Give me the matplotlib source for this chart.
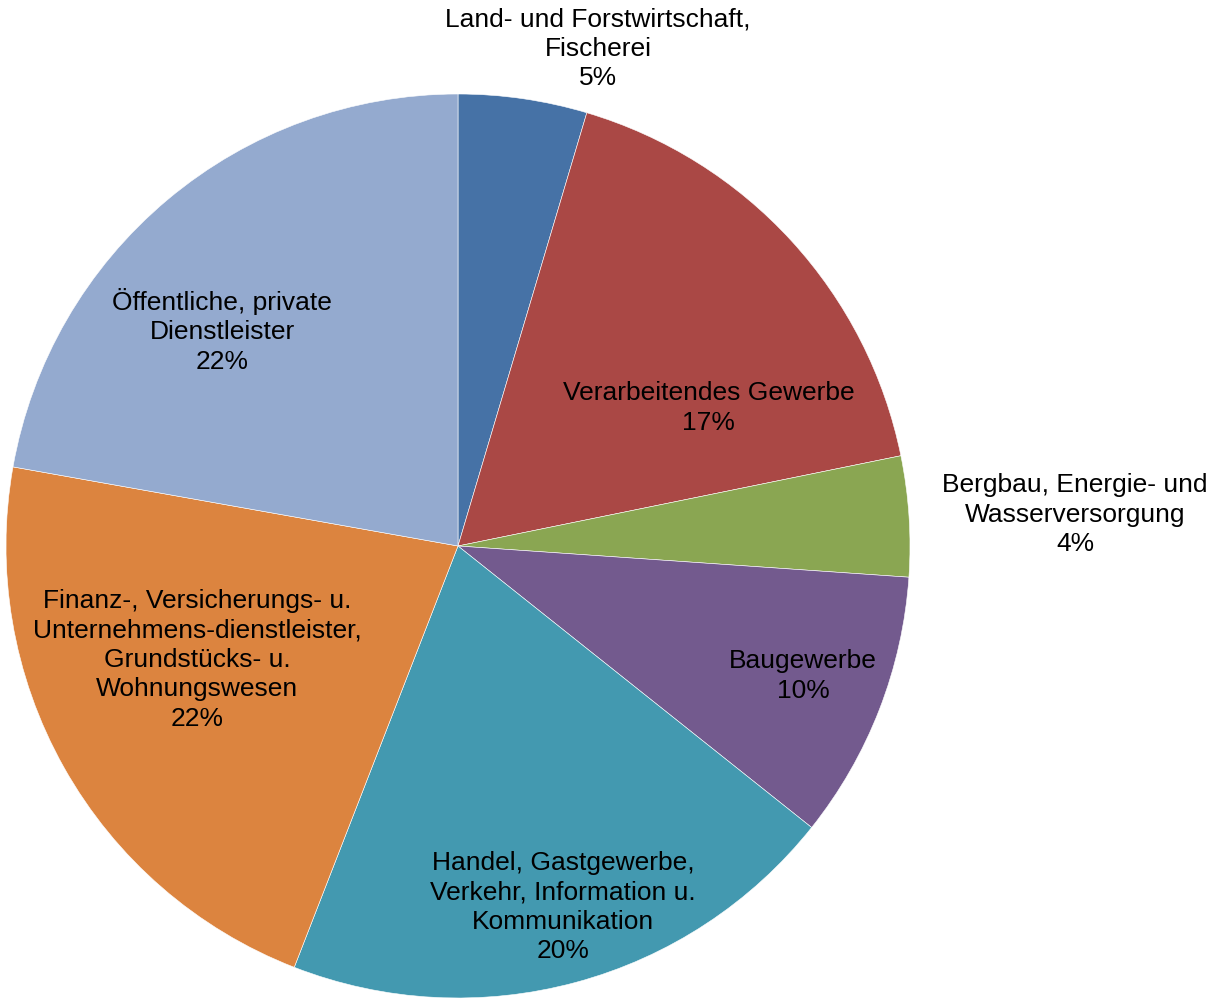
import matplotlib.pyplot as plt

# Anteile der Wirtschaftsbereiche (im Uhrzeigersinn ab 12 Uhr)
bereiche = [
    "Land- und Forstwirtschaft,\nFischerei",
    "Verarbeitendes Gewerbe",
    "Bergbau, Energie- und\nWasserversorgung",
    "Baugewerbe",
    "Handel, Gastgewerbe,\nVerkehr, Information u.\nKommunikation",
    "Finanz-, Versicherungs- u.\nUnternehmens-dienstleister,\nGrundstücks- u.\nWohnungswesen",
    "Öffentliche, private\nDienstleister",
]
anteile = [4.6, 17.2, 4.3, 9.6, 20.2, 21.9, 22.2]

farben = ["#4672A6", "#AA4845", "#8AA652", "#735A8E", "#4399B0", "#DC843F", "#94AACF"]

# Label-Mittelpunkte in Radius-Einheiten
label_pos = [(0.31, 1.10), (0.555, 0.305), (1.365, 0.069), (0.763, -0.288),
             (0.232, -0.799), (-0.577, -0.252), (-0.522, 0.476)]

plt.rcParams['font.family'] = ['Liberation Sans', 'DejaVu Sans']

fig = plt.figure(figsize=(12.11, 10.01), dpi=100)
R_px = 452
cx, cy = 458, 1001 - 546
ax = fig.add_axes([(cx - R_px) / 1211, (cy - R_px) / 1001, 2 * R_px / 1211, 2 * R_px / 1001])

wedges, _ = ax.pie(anteile, colors=farben, startangle=90, counterclock=False,
                   radius=1.0, wedgeprops=dict(edgecolor="white", linewidth=0.4))
ax.set_xlim(-1, 1)
ax.set_ylim(-1, 1)
ax.set_aspect("equal")
ax.axis("off")

gesamt = sum(anteile)
for name, wert, (x, y) in zip(bereiche, anteile, label_pos):
    txt = f"{name}\n{int(wert / gesamt * 100 + 0.5)}%"
    ax.text(x, y, txt, ha="center", va="center", fontsize=19,
            linespacing=1.29, color="black", clip_on=False)

fig.savefig("out.png", dpi=100)
